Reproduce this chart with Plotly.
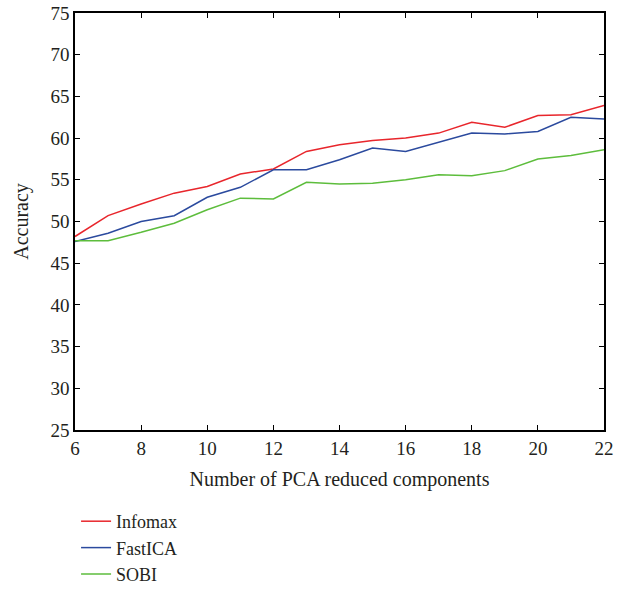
import plotly.graph_objects as go

components = list(range(6, 23))
infomax = [48.2, 50.7, 52.1, 53.4, 54.2, 55.7, 56.3, 58.4, 59.2, 59.7, 60.0, 60.6, 61.9, 61.3, 62.7, 62.8, 63.9]
fastica = [47.6, 48.6, 50.0, 50.7, 52.9, 54.1, 56.2, 56.2, 57.4, 58.8, 58.4, 59.5, 60.6, 60.5, 60.8, 62.5, 62.3]
sobi = [47.7, 47.7, 48.7, 49.8, 51.4, 52.8, 52.7, 54.7, 54.5, 54.6, 55.0, 55.6, 55.5, 56.1, 57.5, 57.9, 58.6]

series = [("Infomax", infomax, "#e8262c"), ("FastICA", fastica, "#2b4a9e"), ("SOBI", sobi, "#5dbd3c")]

FONT = "Liberation Serif"
TXT = "#231f20"
W, H = 629, 592
L, R, T, B = 75, 25, 13, 162
plot_h = H - T - B
fig = go.Figure()
for name, vals, color in series:
    fig.add_trace(go.Scatter(x=components, y=vals, mode="lines", name=name,
                             line=dict(color=color, width=1.5)))

axis_common = dict(showline=True, linecolor="black", linewidth=1.5, mirror="ticks",
                   ticks="inside", ticklen=5, tickcolor="black", showgrid=False, zeroline=False,
                   automargin=True, ticklabeloverflow="allow",
                   tickfont=dict(family=FONT, size=19, color=TXT))
fig.update_xaxes(range=[6, 22], dtick=2, tick0=6,
                 title=dict(text="Number of PCA reduced components", font=dict(family=FONT, size=20, color=TXT), standoff=14),
                 **axis_common)
fig.update_yaxes(range=[25, 75], dtick=5,
                 title=dict(text="Accuracy", font=dict(family=FONT, size=20, color=TXT), standoff=16),
                 **axis_common)
fig.update_layout(
    width=W, height=H,
    margin=dict(l=L, r=R, t=T, b=B, autoexpand=False),
    plot_bgcolor="white", paper_bgcolor="white",
    font=dict(family=FONT, size=19, color=TXT),
    legend=dict(x=0.002, y=-(503 - (H - B)) / plot_h,
                xanchor="left", yanchor="top", orientation="v",
                font=dict(family=FONT, size=18, color=TXT), bgcolor="rgba(0,0,0,0)", tracegroupgap=0),
    showlegend=True,
)
fig.write_html("out.html", config={"displayModeBar": False},
               post_script="document.body.style.margin='0';document.body.style.overflow='hidden';")
